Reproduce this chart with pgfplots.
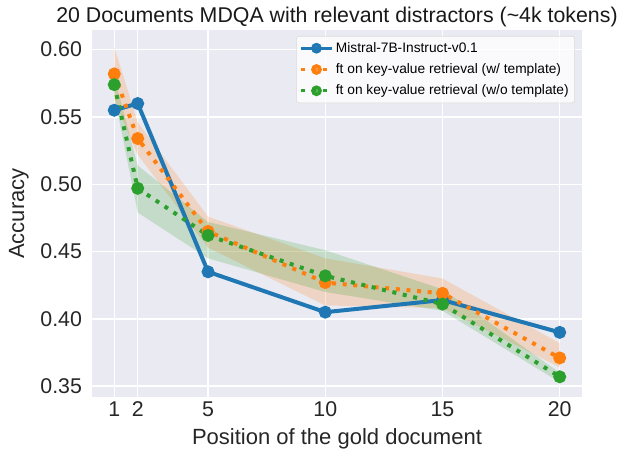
\documentclass[border=0pt]{standalone}
\usepackage{pgfplots}
\pgfplotsset{compat=1.18}
\usepackage{fontspec}
\setmainfont{Liberation Sans}
\definecolor{sbblue}{HTML}{1F77B4}
\definecolor{sborange}{HTML}{FF7F0E}
\definecolor{sbgreen}{HTML}{2CA02C}
\definecolor{sbbg}{HTML}{EAEAF2}
\begin{document}
\begin{tikzpicture}
\begin{axis}[
  scale only axis,
  width=367.5pt, height=275.25pt,
  xmin=0.05, xmax=20.95,
  ymin=0.342, ymax=0.6146,
  axis background/.style={fill=sbbg},
  axis line style={draw=none},
  major tick length=0pt,
  grid=major,
  major grid style={white, line width=1.1pt},
  xtick={1,2,5,10,15,20},
  ytick={0.35,0.40,0.45,0.50,0.55,0.60},
  yticklabel style={xshift=-4pt, /pgf/number format/.cd, fixed, fixed zerofill, precision=2},
  /pgf/number format/assume math mode=true,
  tick label style={font=\fontsize{16}{19}\selectfont, text=black!85},
  label style={font=\fontsize{16.5}{20}\selectfont, text=black!85},
  xlabel style={yshift=-2pt},
  ylabel style={yshift=2pt},
  title style={font=\fontsize{16}{19}\selectfont, text=black!90, yshift=-7pt},
  title={20 Documents MDQA with relevant distractors (\textasciitilde 4k tokens)},
  xlabel={Position of the gold document},
  ylabel={Accuracy},
  legend style={at={(0.9857,0.9837)}, anchor=north east, fill=white, fill opacity=0.8, text opacity=1,
    draw=black!15, rounded corners=2pt, font=\fontsize{10.3}{12}\selectfont, row sep=3pt, inner sep=2.5pt},
  legend cell align=left,
  legend image code/.code={\draw[mark repeat=2,mark phase=2, mark size=2.8pt, line width=2.4pt] plot coordinates {(0cm,0cm)(0.4cm,0cm)(0.8cm,0cm)};},
]
% bands
\addplot[draw=none, fill=sborange, fill opacity=0.2, forget plot] coordinates {
 (1,0.602)(2,0.546)(5,0.476)(10,0.445)(15,0.430)(20,0.382)
 (20,0.364)(15,0.408)(10,0.410)(5,0.453)(2,0.522)(1,0.562)} -- cycle;
\addplot[draw=none, fill=sbgreen, fill opacity=0.2, forget plot] coordinates {
 (1,0.580)(2,0.514)(5,0.472)(10,0.451)(15,0.422)(20,0.360)
 (20,0.353)(15,0.406)(10,0.420)(5,0.445)(2,0.479)(1,0.566)} -- cycle;
% lines
\addplot[sbblue, line width=3pt, mark=*, mark size=3.3pt, mark options={solid}] coordinates {
 (1,0.555)(2,0.560)(5,0.435)(10,0.405)(15,0.414)(20,0.390)};
\addlegendentry{Mistral-7B-Instruct-v0.1}
\addplot[sborange, line width=3pt, dash pattern=on 3pt off 5pt, mark=*, mark size=3.3pt, mark options={solid}] coordinates {
 (1,0.582)(2,0.534)(5,0.465)(10,0.427)(15,0.419)(20,0.371)};
\addlegendentry{ft on key-value retrieval (w/ template)}
\addplot[sbgreen, line width=3pt, dash pattern=on 3pt off 5pt, mark=*, mark size=3.3pt, mark options={solid}] coordinates {
 (1,0.574)(2,0.497)(5,0.462)(10,0.432)(15,0.411)(20,0.357)};
\addlegendentry{ft on key-value retrieval (w/o template)}
\coordinate (SW) at (rel axis cs:0,0);
\coordinate (NE) at (rel axis cs:1,1);
\end{axis}
\pgfresetboundingbox
\path ([shift={(-69pt,-42.75pt)}]SW) rectangle ([shift={(33pt,22.5pt)}]NE);
\end{tikzpicture}
\end{document}
